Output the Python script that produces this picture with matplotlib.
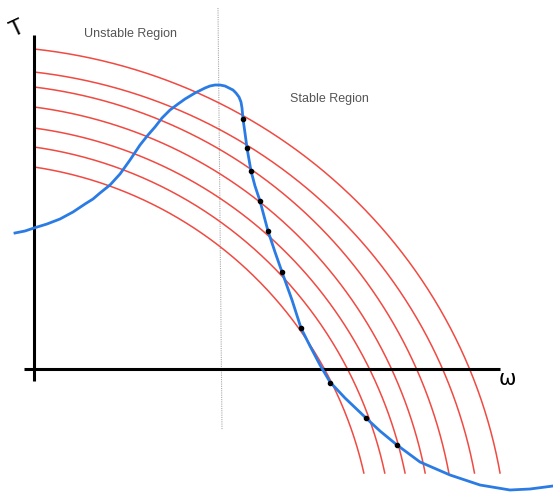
import matplotlib.pyplot as plt
import numpy as np

# torque-speed sketch, drawn in picture units (x right, y down)
# red load curves: where each meets the T axis and the w axis
arc_start_y = [167, 147, 128, 107, 87, 72, 49]
arc_cross_x = [325, 348, 370, 392, 417, 443, 470]
arc_center = (-25, 560)
arc_bottom = 473

# blue motor curve
motor_x = [15, 25, 34, 47, 60, 73, 85, 93, 100, 110, 120, 130, 140, 148, 155, 162,
           170, 178, 185, 195, 205, 210, 215, 220, 225, 229, 233, 236, 239, 241,
           242, 243, 245, 247, 251, 255, 260, 268, 275, 282, 292, 301, 310, 320,
           330, 345, 366, 380, 397, 420, 450, 480, 510, 530, 553]
motor_y = [233, 231, 228, 224, 219, 212, 204, 199, 193, 185, 174, 160, 145, 135, 127,
           118, 110, 104, 99, 93, 88, 86, 85, 85, 86, 88, 90, 93, 97, 102,
           108, 119, 133, 148, 171, 186, 201, 231, 252, 272, 300, 328, 346, 365,
           382, 398, 418, 431, 445, 462, 475, 485, 490, 489, 486]

# operating points
op_x = [243, 247, 251, 260, 268, 282, 301, 330, 366, 397]
op_y = [119, 148, 171, 201, 231, 272, 328, 383, 418, 445]

fig = plt.figure(figsize=(5.53, 4.94), dpi=100)
ax = fig.add_axes([0, 0, 1, 1])
ax.set_xlim(0, 553)
ax.set_ylim(494, 0)
ax.axis('off')

cx, cy = arc_center
for y0, xc in zip(arc_start_y, arc_cross_x):
    # ellipse through (34, y0) and (xc, 370)
    A = np.array([[(34 - cx)**2, (cy - y0)**2], [(xc - cx)**2, (cy - 370)**2]])
    u, v = np.linalg.solve(A, [1, 1])
    a, b = 1 / np.sqrt(u), 1 / np.sqrt(v)
    t0 = np.arccos((34 - cx) / a)
    t1 = np.arcsin((cy - arc_bottom) / b)
    t = np.linspace(t0, t1, 300)
    ax.plot(cx + a * np.cos(t), cy - b * np.sin(t), color='#f04a42', lw=1.1, zorder=2)

# dotted divider
ax.plot([218, 222], [8, 430], color='#aaaaaa', lw=0.8, ls=(0, (1, 1)), zorder=1)

# axes
ax.plot([34, 34], [35, 381], color='black', lw=2.2, solid_capstyle='butt', zorder=3)
ax.plot([24, 500], [369, 369], color='black', lw=2.2, solid_capstyle='butt', zorder=3)

ax.plot(motor_x, motor_y, color='#2a7be4', lw=2, zorder=4)
ax.plot(op_x, op_y, 'o', color='black', ms=3, zorder=5)

ax.text(130, 34, 'Unstable Region', ha='center', va='center', fontsize=9,
        family='Liberation Sans', color='#555555')
ax.text(329, 99, 'Stable Region', ha='center', va='center', fontsize=9,
        family='Liberation Sans', color='#555555')
ax.text(17, 29, 'T', ha='center', va='center', fontsize=15, rotation=25)
ax.text(507, 379, 'ω', ha='center', va='center', fontsize=15)

fig.savefig('out.png', dpi=100)
